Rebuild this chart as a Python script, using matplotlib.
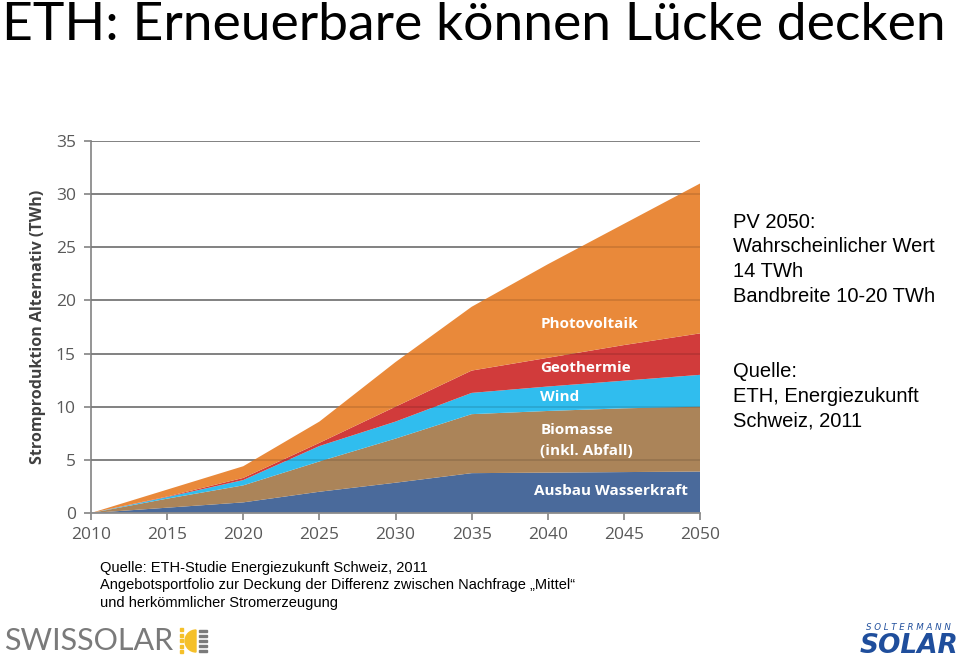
import matplotlib
matplotlib.use("Agg")
import matplotlib.pyplot as plt
import numpy as np
from matplotlib.patches import Wedge, Rectangle

# values (TWh per layer, stacked)
years = [2010, 2015, 2020, 2025, 2030, 2035, 2040, 2045, 2050]
wasserkraft = [0, 0.5, 1.0, 2.0, 2.85, 3.75, 3.8, 3.85, 3.9]
biomasse = [0, 0.85, 1.6, 2.85, 4.15, 5.55, 5.8, 6.0, 6.1]
wind = [0, 0.15, 0.5, 1.45, 1.6, 2.0, 2.3, 2.6, 3.0]
geothermie = [0, 0.05, 0.2, 0.3, 1.4, 2.1, 2.7, 3.35, 3.9]
photovoltaik = [0, 0.65, 1.1, 2.0, 4.2, 6.0, 8.8, 11.4, 14.1]

layer_colors = ["#4a6a9b", "#ab8459", "#30bdee", "#d13b3b", "#e9893a"]

fig = plt.figure(figsize=(9.59, 6.70), dpi=100)
fig.patch.set_facecolor("white")

ax = fig.add_axes([91/959, 1-513/670, (700-91)/959, (513-141)/670])
ax.stackplot(years, wasserkraft, biomasse, wind, geothermie, photovoltaik,
             colors=layer_colors, linewidth=0, zorder=2)

ax.set_xlim(2010, 2050)
ax.set_ylim(0, 35)
ax.set_xticks(range(2010, 2051, 5))
ax.set_yticks(range(0, 36, 5))
for v in range(5, 36, 5):
    ax.axhline(v, color="#8a8a8a", lw=1.3, zorder=1)
    ax.axhline(v, color="black", lw=1.3, alpha=0.12, zorder=5)

for s in ["top", "right"]:
    ax.spines[s].set_visible(False)
for s in ["left", "bottom"]:
    ax.spines[s].set_color("#8c8c8c")
    ax.spines[s].set_linewidth(1.3)
ax.tick_params(axis="both", colors="#8c8c8c", length=5, width=1.3, direction="out")
for lab in ax.get_xticklabels() + ax.get_yticklabels():
    lab.set_color("#595959")
    lab.set_fontsize(12.5)
    lab.set_family("Open Sans")
ax.tick_params(axis="y", pad=6)
ax.tick_params(axis="x", pad=5)
ax.set_ylabel("Stromproduktion Alternativ (TWh)", fontsize=11.5, fontweight="bold",
              color="#404040", family="Open Sans", labelpad=7)

# labels inside the areas
inline = [("Photovoltaik", 2039.5, 17.8), ("Geothermie", 2039.5, 13.6),
          ("Wind", 2039.5, 10.9), ("Biomasse", 2039.5, 7.85),
          ("(inkl. Abfall)", 2039.5, 5.8), ("Ausbau Wasserkraft", 2039.1, 2.05)]
for t, x, y in inline:
    ax.text(x, y, t, color="white", fontsize=11, fontweight="bold",
            family="Open Sans", ha="left", va="center", zorder=6)

# title
fig.text(2/959, 1-26/670, "ETH: Erneuerbare können Lücke decken", fontsize=38.5,
         family="Lato", ha="left", va="center", color="black")

# right side notes
right_lines = ["PV 2050:", "Wahrscheinlicher Wert", "14 TWh", "Bandbreite 10-20 TWh",
               "", "", "Quelle:", "ETH, Energiezukunft", "Schweiz, 2011"]
for i, t in enumerate(right_lines):
    fig.text(733/959, 1-(222+i*24.9)/670, t, fontsize=14.5, family="Liberation Sans",
             ha="left", va="center")

# bottom source
bottom_lines = ["Quelle: ETH-Studie Energiezukunft Schweiz, 2011",
                "Angebotsportfolio zur Deckung der Differenz zwischen Nachfrage \u201eMittel\u201c",
                "und herkömmlicher Stromerzeugung"]
for i, t in enumerate(bottom_lines):
    fig.text(100/959, 1-(568+i*17.5)/670, t, fontsize=10.5, family="Liberation Sans",
             ha="left", va="center")

# SWISSOLAR logo
fig.text(4/959, 1-641/670, "SWISSOLAR", fontsize=22, family="Lato", color="#7a7a7a",
         ha="left", va="center")
lax = fig.add_axes([178/959, 1-656/670, 36/959, 30/670])
lax.set_xlim(0, 36)
lax.set_ylim(0, 30)
lax.axis("off")
lax.add_patch(Wedge((18, 15), 11, 90, 270, color="#f5c02a"))
for k in range(5):
    lax.add_patch(Rectangle((2, 3 + k * 5.5), 3, 3, color="#f5c02a"))
    lax.add_patch(Rectangle((21, 4 + k * 5), 8, 2.4, color="#7a7a7a"))

# SOLTERMANN SOLAR logo
fig.text(866/959, 1-627/670, "S O L T E R M A N N", fontsize=6.2, style="italic",
         color="#1f4e9c", family="DejaVu Sans", ha="left", va="center")
fig.text(860/959, 1-646/670, "SOLAR", fontsize=19, style="italic", fontweight="heavy",
         color="#1f4e9c", family="DejaVu Sans", ha="left", va="center")

fig.savefig("out.png", dpi=100)
plt.close()
